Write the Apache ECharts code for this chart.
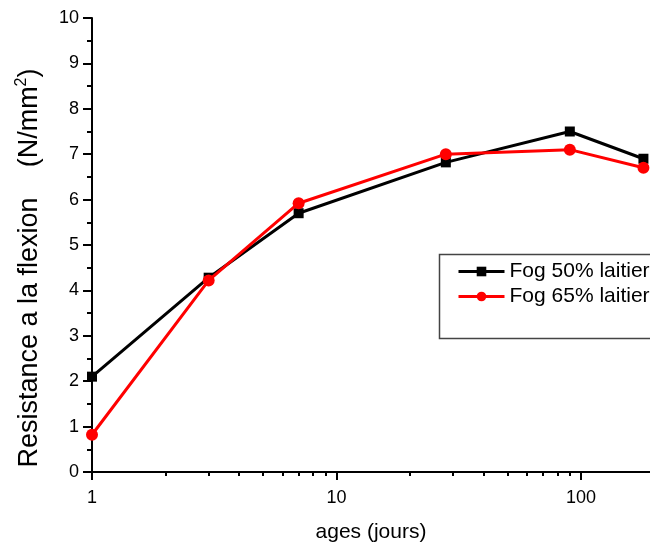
<!DOCTYPE html>
<html>
<head>
<meta charset="utf-8">
<script src="https://cdn.jsdelivr.net/npm/echarts@6/dist/echarts.min.js"></script>
<style>
html,body{margin:0;padding:0;background:#fff;}
#main{width:650px;height:548px;}
</style>
</head>
<body>
<div id="main"></div>
<script>
const ages = [1, 3, 7, 28, 90, 180];
const fog50 = [2.1, 4.28, 5.7, 6.82, 7.5, 6.9];
const fog65 = [0.82, 4.22, 5.92, 7.0, 7.1, 6.7];
const seriesNames = ['Fog 50% laitier', 'Fog 65% laitier'];
const xMajorTicks = [1, 10, 100];
const xMinorTicks = [2, 3, 4, 5, 6, 7, 8, 9, 20, 30, 40, 50, 60, 70, 80, 90];
const xMin = 1, xMax = 191.5;
const FONT = '"Liberation Sans", Arial, sans-serif';

const chart = echarts.init(document.getElementById('main'), null, {renderer: 'canvas'});
chart.setOption({
  animation: false,
  backgroundColor: '#fff',
  grid: {left: 92, right: 0, top: 18, bottom: 73, containLabel: false},
  xAxis: [{
    type: 'log', logBase: 10, min: xMin, max: xMax,
    name: 'ages (jours)', nameLocation: 'middle', nameGap: 50,
    nameTextStyle: {fontFamily: FONT, fontSize: 21, color: '#000'},
    axisLine: {show: true, lineStyle: {color: '#000', width: 2}},
    axisTick: {show: true, length: 8, inside: false, customValues: xMajorTicks, lineStyle: {color: '#000', width: 2}},
    axisLabel: {show: true, customValues: xMajorTicks, margin: 17, fontFamily: FONT, fontSize: 18, color: '#000'},
    splitLine: {show: false}, minorTick: {show: false}
  }, {
    type: 'log', logBase: 10, min: xMin, max: xMax, position: 'bottom',
    axisLine: {show: false},
    axisTick: {show: true, length: 4, customValues: xMinorTicks, lineStyle: {color: '#000', width: 2}},
    axisLabel: {show: false},
    splitLine: {show: false}
  }],
  yAxis: {
    type: 'value', min: 0, max: 10, interval: 1,
    name: 'Resistance a la flexion    (N/mm{sup|2})', nameLocation: 'middle', nameGap: 46,
    nameTextStyle: {fontFamily: FONT, fontSize: 27, color: '#000', padding: [0, 46, 0, 0],
      rich: {sup: {fontFamily: FONT, fontSize: 16, color: '#000', padding: [0, 0, 16, 0]}}},
    axisLine: {show: true, lineStyle: {color: '#000', width: 2}},
    axisTick: {show: true, length: 9, lineStyle: {color: '#000', width: 2}},
    minorTick: {show: true, splitNumber: 2, length: 5, lineStyle: {color: '#000', width: 2}},
    axisLabel: {margin: 13, fontFamily: FONT, fontSize: 18, color: '#000'},
    splitLine: {show: false}
  },
  legend: {
    orient: 'vertical', left: 452, top: 256,
    itemWidth: 46, itemHeight: 12, itemGap: 4,
    lineStyle: {width: 3},
    textStyle: {fontFamily: FONT, fontSize: 21, color: '#000', lineHeight: 21},
    data: seriesNames
  },
  graphic: [{
    type: 'rect', left: 437, top: 252,
    shape: {width: 230, height: 84},
    style: {fill: 'none', stroke: '#444', lineWidth: 1.5}, z: 100
  }],
  series: [{
    name: seriesNames[0], type: 'line', xAxisIndex: 0,
    data: ages.map((a, i) => [a, fog50[i]]),
    symbol: 'rect', symbolSize: 10, showAllSymbol: true,
    lineStyle: {color: '#000', width: 3}, itemStyle: {color: '#000'},
    clip: false, z: 2
  }, {
    name: seriesNames[1], type: 'line', xAxisIndex: 0,
    data: ages.map((a, i) => [a, fog65[i]]),
    symbol: 'circle', symbolSize: 12, showAllSymbol: true,
    lineStyle: {color: '#ff0000', width: 3}, itemStyle: {color: '#ff0000'},
    clip: false, z: 3
  }]
});
</script>
</body>
</html>
